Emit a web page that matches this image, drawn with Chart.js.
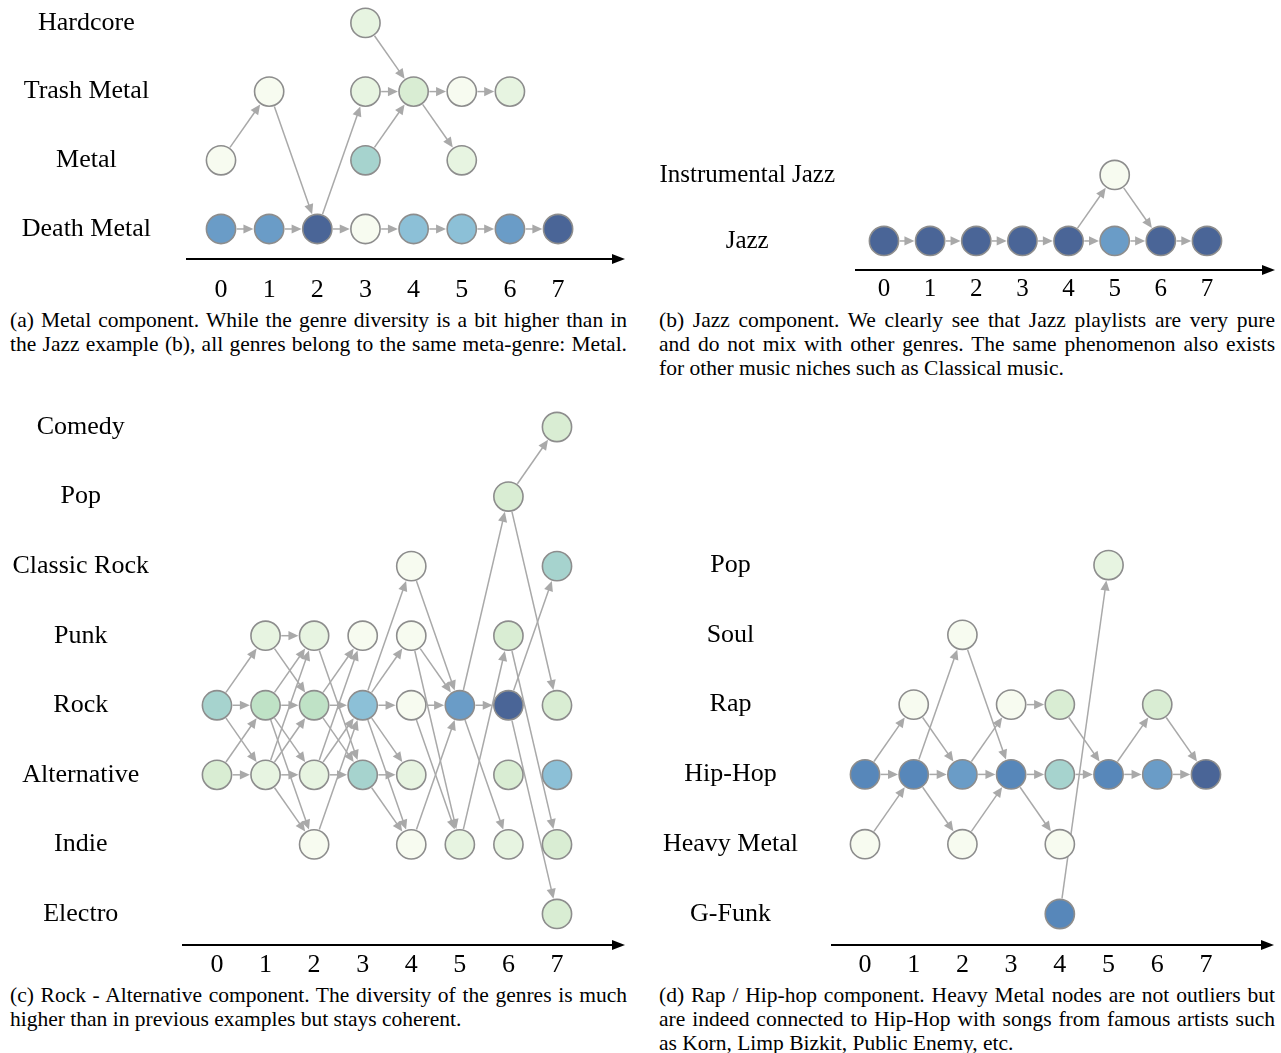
<!DOCTYPE html>
<html>
<head>
<meta charset="utf-8">
<script src="https://cdn.jsdelivr.net/npm/chart.js@4.4.1/dist/chart.umd.min.js"></script>
<style>
  html, body { margin: 0; padding: 0; background: #fff; }
  body { width: 1281px; height: 1053px; position: relative; overflow: hidden;
         font-family: 'Liberation Serif', 'Times New Roman', serif; color: #000; }
  .panel { position: absolute; }
  .panel canvas { display: block; }
  .cap { position: absolute; font-size: 21.5px; line-height: 24px; }
  .cap div { white-space: nowrap; }
  .cap div.j { white-space: normal; text-align: justify; text-align-last: justify; }
</style>
</head>
<body>

<div class="panel" style="left:0;top:0;width:640px;height:305px"><canvas id="chartA" width="640" height="305"></canvas></div>
<div class="panel" style="left:645px;top:0;width:636px;height:305px"><canvas id="chartB" width="636" height="305"></canvas></div>
<div class="panel" style="left:0;top:395px;width:640px;height:585px"><canvas id="chartC" width="640" height="585"></canvas></div>
<div class="panel" style="left:645px;top:395px;width:636px;height:585px"><canvas id="chartD" width="636" height="585"></canvas></div>

<div class="cap" style="left:10px;top:308px;width:617px">
  <div class="j">(a) Metal component. While the genre diversity is a bit higher than in</div>
  <div class="j">the Jazz example (b), all genres belong to the same meta-genre: Metal.</div>
</div>
<div class="cap" style="left:659px;top:308px;width:616px">
  <div class="j">(b) Jazz component. We clearly see that Jazz playlists are very pure</div>
  <div class="j">and do not mix with other genres. The same phenomenon also exists</div>
  <div>for other music niches such as Classical music.</div>
</div>
<div class="cap" style="left:10px;top:983px;width:617px">
  <div class="j">(c) Rock - Alternative component. The diversity of the genres is much</div>
  <div>higher than in previous examples but stays coherent.</div>
</div>
<div class="cap" style="left:659px;top:983px;width:616px">
  <div class="j">(d) Rap / Hip-hop component. Heavy Metal nodes are not outliers but</div>
  <div class="j">are indeed connected to Hip-Hop with songs from famous artists such</div>
  <div>as Korn, Limp Bizkit, Public Enemy, etc.</div>
</div>

<script>
// ---- Data -------------------------------------------------------------
// Time steps shown on every horizontal axis.
const steps = [0, 1, 2, 3, 4, 5, 6, 7];

// Nodes: [step, genre, shade level 0 (light) .. 8 (dark)]
// Edges: [step, genre at step, genre at step + 1]

// (a) Metal component
const metalGenres = ['Death Metal', 'Metal', 'Trash Metal', 'Hardcore'];
const metalNodes = [
  [0, 'Death Metal', 6], [0, 'Metal', 0],
  [1, 'Death Metal', 6], [1, 'Trash Metal', 0],
  [2, 'Death Metal', 8],
  [3, 'Death Metal', 0], [3, 'Metal', 4], [3, 'Trash Metal', 1], [3, 'Hardcore', 1],
  [4, 'Death Metal', 5], [4, 'Trash Metal', 2],
  [5, 'Death Metal', 5], [5, 'Metal', 1], [5, 'Trash Metal', 0],
  [6, 'Death Metal', 6], [6, 'Trash Metal', 1],
  [7, 'Death Metal', 8]
];
const metalEdges = [
  [0, 'Death Metal', 'Death Metal'], [0, 'Metal', 'Trash Metal'],
  [1, 'Death Metal', 'Death Metal'], [1, 'Trash Metal', 'Death Metal'],
  [2, 'Death Metal', 'Death Metal'], [2, 'Death Metal', 'Trash Metal'],
  [3, 'Death Metal', 'Death Metal'], [3, 'Hardcore', 'Trash Metal'],
  [3, 'Trash Metal', 'Trash Metal'], [3, 'Metal', 'Trash Metal'],
  [4, 'Death Metal', 'Death Metal'], [4, 'Trash Metal', 'Trash Metal'], [4, 'Trash Metal', 'Metal'],
  [5, 'Death Metal', 'Death Metal'], [5, 'Trash Metal', 'Trash Metal'],
  [6, 'Death Metal', 'Death Metal']
];

// (b) Jazz component
const jazzGenres = ['Jazz', 'Instrumental Jazz'];
const jazzNodes = [
  [0, 'Jazz', 8], [1, 'Jazz', 8], [2, 'Jazz', 8], [3, 'Jazz', 8], [4, 'Jazz', 8],
  [5, 'Jazz', 6], [5, 'Instrumental Jazz', 0],
  [6, 'Jazz', 8], [7, 'Jazz', 8]
];
const jazzEdges = [
  [0, 'Jazz', 'Jazz'], [1, 'Jazz', 'Jazz'], [2, 'Jazz', 'Jazz'], [3, 'Jazz', 'Jazz'],
  [4, 'Jazz', 'Jazz'], [4, 'Jazz', 'Instrumental Jazz'],
  [5, 'Jazz', 'Jazz'], [5, 'Instrumental Jazz', 'Jazz'],
  [6, 'Jazz', 'Jazz']
];

// (c) Rock - Alternative component
const rockGenres = ['Electro', 'Indie', 'Alternative', 'Rock', 'Punk', 'Classic Rock', 'Pop', 'Comedy'];
const rockNodes = [
  [0, 'Rock', 4], [0, 'Alternative', 2],
  [1, 'Punk', 1], [1, 'Rock', 3], [1, 'Alternative', 1],
  [2, 'Punk', 1], [2, 'Rock', 3], [2, 'Alternative', 1], [2, 'Indie', 0],
  [3, 'Punk', 0], [3, 'Rock', 5], [3, 'Alternative', 4],
  [4, 'Classic Rock', 0], [4, 'Punk', 0], [4, 'Rock', 0], [4, 'Alternative', 1], [4, 'Indie', 0],
  [5, 'Rock', 6], [5, 'Indie', 1],
  [6, 'Pop', 2], [6, 'Punk', 2], [6, 'Rock', 8], [6, 'Alternative', 2], [6, 'Indie', 1],
  [7, 'Comedy', 2], [7, 'Classic Rock', 4], [7, 'Rock', 2], [7, 'Alternative', 5],
  [7, 'Indie', 2], [7, 'Electro', 2]
];
const rockEdges = [
  [0, 'Rock', 'Punk'], [0, 'Rock', 'Rock'], [0, 'Rock', 'Alternative'],
  [0, 'Alternative', 'Rock'], [0, 'Alternative', 'Alternative'],
  [1, 'Punk', 'Punk'], [1, 'Punk', 'Rock'],
  [1, 'Rock', 'Punk'], [1, 'Rock', 'Rock'], [1, 'Rock', 'Alternative'], [1, 'Rock', 'Indie'],
  [1, 'Alternative', 'Punk'], [1, 'Alternative', 'Rock'], [1, 'Alternative', 'Alternative'], [1, 'Alternative', 'Indie'],
  [2, 'Punk', 'Alternative'],
  [2, 'Rock', 'Punk'], [2, 'Rock', 'Rock'], [2, 'Rock', 'Alternative'],
  [2, 'Alternative', 'Punk'], [2, 'Alternative', 'Rock'], [2, 'Alternative', 'Alternative'],
  [2, 'Indie', 'Rock'],
  [3, 'Rock', 'Classic Rock'], [3, 'Rock', 'Punk'], [3, 'Rock', 'Rock'],
  [3, 'Rock', 'Alternative'], [3, 'Rock', 'Indie'],
  [3, 'Alternative', 'Alternative'], [3, 'Alternative', 'Indie'],
  [4, 'Classic Rock', 'Rock'], [4, 'Punk', 'Rock'], [4, 'Punk', 'Indie'],
  [4, 'Rock', 'Rock'], [4, 'Rock', 'Indie'], [4, 'Indie', 'Rock'],
  [5, 'Rock', 'Pop'], [5, 'Rock', 'Rock'], [5, 'Rock', 'Indie'], [5, 'Indie', 'Punk'],
  [6, 'Pop', 'Comedy'], [6, 'Pop', 'Rock'], [6, 'Rock', 'Classic Rock'],
  [6, 'Rock', 'Electro'], [6, 'Punk', 'Indie']
];

// (d) Rap / Hip-hop component
const rapGenres = ['G-Funk', 'Heavy Metal', 'Hip-Hop', 'Rap', 'Soul', 'Pop'];
const rapNodes = [
  [0, 'Hip-Hop', 7], [0, 'Heavy Metal', 0],
  [1, 'Rap', 0], [1, 'Hip-Hop', 7],
  [2, 'Soul', 0], [2, 'Hip-Hop', 6], [2, 'Heavy Metal', 0],
  [3, 'Rap', 0], [3, 'Hip-Hop', 7],
  [4, 'Rap', 2], [4, 'Hip-Hop', 4], [4, 'Heavy Metal', 0], [4, 'G-Funk', 7],
  [5, 'Pop', 1], [5, 'Hip-Hop', 7],
  [6, 'Rap', 2], [6, 'Hip-Hop', 6],
  [7, 'Hip-Hop', 8]
];
const rapEdges = [
  [0, 'Hip-Hop', 'Rap'], [0, 'Hip-Hop', 'Hip-Hop'], [0, 'Heavy Metal', 'Hip-Hop'],
  [1, 'Hip-Hop', 'Soul'], [1, 'Hip-Hop', 'Hip-Hop'], [1, 'Hip-Hop', 'Heavy Metal'], [1, 'Rap', 'Hip-Hop'],
  [2, 'Hip-Hop', 'Rap'], [2, 'Hip-Hop', 'Hip-Hop'], [2, 'Heavy Metal', 'Hip-Hop'], [2, 'Soul', 'Hip-Hop'],
  [3, 'Rap', 'Rap'], [3, 'Hip-Hop', 'Hip-Hop'], [3, 'Hip-Hop', 'Heavy Metal'],
  [4, 'Rap', 'Hip-Hop'], [4, 'Hip-Hop', 'Hip-Hop'], [4, 'G-Funk', 'Pop'],
  [5, 'Hip-Hop', 'Rap'], [5, 'Hip-Hop', 'Hip-Hop'],
  [6, 'Rap', 'Hip-Hop'], [6, 'Hip-Hop', 'Hip-Hop']
];

// ---- Styling ----------------------------------------------------------
// Green-blue sequential ramp used for node shade levels.
const shadePalette = ['#f7fbf0', '#e7f4e1', '#d9edd3', '#bfe2c6', '#a6d3ce',
                      '#8cc0d7', '#6a9cc7', '#5787ba', '#4a6597'];
const NODE_R = 14.6;
const NODE_BORDER = 1.6;
const EDGE_COLOR = '#a9a9a9';
const SERIF = "'Liberation Serif', 'Times New Roman', serif";

function flowPlugin(genres, edges) {
  const rowOf = g => genres.indexOf(g);
  return {
    id: 'flow',
    beforeDatasetsDraw(chart) {
      const { ctx, scales: { x, y } } = chart;
      const r = NODE_R + NODE_BORDER / 2 + 0.3;
      ctx.save();
      ctx.strokeStyle = EDGE_COLOR;
      ctx.fillStyle = EDGE_COLOR;
      ctx.lineWidth = 1.5;
      edges.forEach(([t, from, to]) => {
        const x1 = x.getPixelForValue(t), y1 = y.getPixelForValue(rowOf(from));
        const x2 = x.getPixelForValue(t + 1), y2 = y.getPixelForValue(rowOf(to));
        const dx = x2 - x1, dy = y2 - y1, len = Math.hypot(dx, dy);
        const ux = dx / len, uy = dy / len;
        const sx = x1 + ux * r, sy = y1 + uy * r;
        const tx = x2 - ux * r, ty = y2 - uy * r;
        const hl = 10, hw = 4.6;
        const bx = tx - ux * hl, by = ty - uy * hl;
        ctx.beginPath();
        ctx.moveTo(sx, sy);
        ctx.lineTo(bx + ux, by + uy);
        ctx.stroke();
        ctx.beginPath();
        ctx.moveTo(tx, ty);
        ctx.lineTo(bx - uy * hw, by + ux * hw);
        ctx.lineTo(bx + uy * hw, by - ux * hw);
        ctx.closePath();
        ctx.fill();
      });
      ctx.restore();
    },
    afterDraw(chart) {
      // time axis drawn as an arrow along the bottom of the plot area
      const { ctx, chartArea: a } = chart;
      const yb = a.bottom;
      ctx.save();
      ctx.strokeStyle = '#000';
      ctx.fillStyle = '#000';
      ctx.lineWidth = 2;
      ctx.beginPath();
      ctx.moveTo(a.left, yb);
      ctx.lineTo(a.right - 10, yb);
      ctx.stroke();
      ctx.beginPath();
      ctx.moveTo(a.right, yb);
      ctx.lineTo(a.right - 13, yb - 5);
      ctx.lineTo(a.right - 13, yb + 5);
      ctx.closePath();
      ctx.fill();
      ctx.restore();
    }
  };
}

function makeChart(id, genres, nodes, edges, lay) {
  const rowOf = g => genres.indexOf(g);
  return new Chart(document.getElementById(id), {
    type: 'scatter',
    data: {
      datasets: [{
        data: nodes.map(([t, g]) => ({ x: t, y: rowOf(g) })),
        pointRadius: NODE_R,
        pointHoverRadius: NODE_R,
        pointBackgroundColor: nodes.map(n => shadePalette[n[2]]),
        pointBorderColor: '#8d8d8d',
        pointBorderWidth: NODE_BORDER,
        pointHoverBorderWidth: NODE_BORDER,
        clip: false
      }]
    },
    options: {
      responsive: false,
      devicePixelRatio: 1,
      animation: false,
      events: [],
      layout: { autoPadding: false, padding: { top: lay.padTop, right: lay.padRight, left: 0, bottom: 0 } },
      plugins: { legend: { display: false }, tooltip: { enabled: false } },
      scales: {
        x: {
          type: 'linear', bounds: 'data', min: lay.xMin, max: lay.xMax,
          grid: { display: false, drawTicks: false }, border: { display: false },
          afterBuildTicks: s => { s.ticks = steps.map(v => ({ value: v })); },
          ticks: {
            callback: v => String(v), color: '#000', autoSkip: false,
            maxRotation: 0, minRotation: 0, padding: lay.tickPad,
            font: { family: SERIF, size: lay.font }
          },
          afterFit: s => { s.height = lay.axisH; s.paddingLeft = 0; s.paddingRight = 0; }
        },
        y: {
          type: 'linear', bounds: 'data', min: lay.yMin, max: lay.yMax,
          grid: { display: false, drawTicks: false }, border: { display: false },
          afterBuildTicks: s => { s.ticks = genres.map((g, i) => ({ value: i })); },
          ticks: {
            callback: v => genres[v], color: '#000', autoSkip: false,
            crossAlign: 'center', padding: lay.labelPad,
            font: { family: SERIF, size: lay.font }
          },
          afterFit: s => { s.width = lay.axisW; s.paddingTop = 0; s.paddingBottom = 0; }
        }
      }
    },
    plugins: [flowPlugin(genres, edges)]
  });
}

makeChart('chartA', metalGenres, metalNodes, metalEdges, {
  xMin: -0.727, xMax: 8.39, yMin: -0.437, yMax: 3.333,
  axisW: 186, axisH: 46, padTop: 0, padRight: 15, labelPad: 35, tickPad: 16, font: 26
});
makeChart('chartB', jazzGenres, jazzNodes, jazzEdges, {
  xMin: -0.628, xMax: 8.474, yMin: -0.44, yMax: 1.53,
  axisW: 210, axisH: 35, padTop: 140, padRight: 6, labelPad: 20, tickPad: 4, font: 25
});
makeChart('chartC', rockGenres, rockNodes, rockEdges, {
  xMin: -0.72, xMax: 8.4, yMin: -0.446, yMax: 7.46,
  axisW: 182, axisH: 35, padTop: 0, padRight: 15, labelPad: 33, tickPad: 5, font: 26
});
makeChart('chartD', rapGenres, rapNodes, rapEdges, {
  xMin: -0.698, xMax: 8.397, yMin: -0.444, yMax: 7.436,
  axisW: 186, axisH: 35, padTop: 0, padRight: 7, labelPad: 33, tickPad: 5, font: 26
});
</script>
</body>
</html>
